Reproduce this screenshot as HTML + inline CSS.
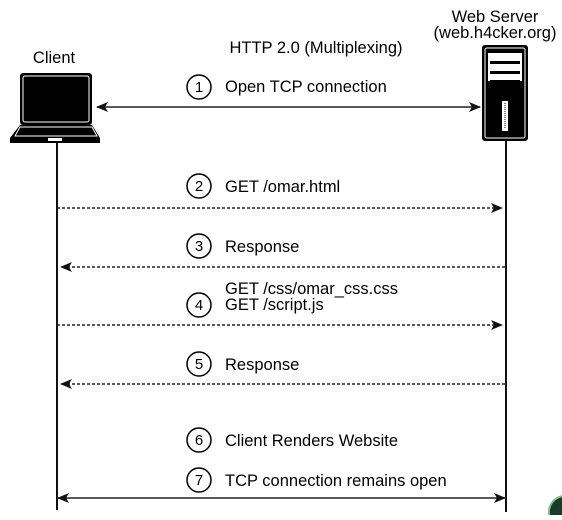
<!DOCTYPE html>
<html><head><style>
body{margin:0;background:#fff;}
svg text{font-family:"Liberation Sans",sans-serif;fill:#000;}
</style></head><body>
<svg width="562" height="515" viewBox="0 0 562 515" xmlns="http://www.w3.org/2000/svg">
<defs>
<marker id="ar" viewBox="0 0 12 10" refX="11" refY="5" markerWidth="12" markerHeight="10" markerUnits="userSpaceOnUse" orient="auto-start-reverse">
<path d="M0,0 L12,5 L0,10 L3,5 Z" fill="#111"/>
</marker>
</defs>
<text x="54" y="63" font-size="16.5" text-anchor="middle">Client</text>
<text x="495" y="22" font-size="16.5" text-anchor="middle">Web Server</text>
<text x="495" y="38" font-size="16.5" text-anchor="middle">(web.h4cker.org)</text>
<text x="316" y="53" font-size="16.5" text-anchor="middle">HTTP 2.0 (Multiplexing)</text>
<!-- laptop -->
<rect x="20" y="73" width="72" height="52" rx="3" fill="#000"/>
<rect x="23" y="76" width="66" height="46" rx="2" fill="none" stroke="#fff" stroke-width="1"/>
<path d="M20,125 L92,125 L100,138 L100,143 L10,143 L10,138 Z" fill="#000"/>
<path d="M20,127 L92,127 L97,136 L15,136 Z" fill="none" stroke="#fff" stroke-width="1"/>
<rect x="48" y="138" width="14" height="3" fill="#fff"/>
<!-- server -->
<rect x="482" y="45" width="46" height="96" rx="3" fill="#000"/>
<rect x="485" y="48" width="40" height="90" rx="2" fill="none" stroke="#fff" stroke-width="1"/>
<rect x="488" y="53" width="34" height="28" fill="#fff"/>
<rect x="490" y="61" width="30" height="3" fill="#000"/>
<rect x="490" y="71" width="30" height="3" fill="#000"/>
<rect x="490" y="80" width="30" height="2" fill="#000"/>
<rect x="502" y="101" width="6" height="30" fill="#fff"/>
<line x1="505" y1="103" x2="505" y2="129" stroke="#000" stroke-dasharray="1,1"/>
<!-- lifelines -->
<line x1="57" y1="143" x2="57" y2="510" stroke="#111" stroke-width="2"/>
<line x1="506" y1="141" x2="506" y2="512" stroke="#111" stroke-width="2"/>
<!-- arrows -->
<line x1="97" y1="107" x2="480" y2="107" stroke="#222" stroke-width="1.5" marker-start="url(#ar)" marker-end="url(#ar)"/>
<line x1="57" y1="208" x2="502" y2="208" stroke="#222" stroke-width="1.5" stroke-dasharray="3,2" marker-end="url(#ar)"/>
<line x1="505" y1="267" x2="61" y2="267" stroke="#222" stroke-width="1.5" stroke-dasharray="3,2" marker-end="url(#ar)"/>
<line x1="57" y1="325" x2="502" y2="325" stroke="#222" stroke-width="1.5" stroke-dasharray="3,2" marker-end="url(#ar)"/>
<line x1="505" y1="384" x2="61" y2="384" stroke="#222" stroke-width="1.5" stroke-dasharray="3,2" marker-end="url(#ar)"/>
<line x1="58" y1="498" x2="505" y2="498" stroke="#222" stroke-width="1.5" marker-start="url(#ar)" marker-end="url(#ar)"/>
<!-- circles -->
<g fill="none" stroke="#000" stroke-width="1.5">
<circle cx="199" cy="87" r="12"/><circle cx="199" cy="186" r="12"/><circle cx="199" cy="246" r="12"/>
<circle cx="199" cy="305" r="12"/><circle cx="199" cy="364" r="12"/><circle cx="199" cy="440" r="12"/><circle cx="199" cy="480" r="12"/>
</g>
<g font-size="15" text-anchor="middle">
<text x="199" y="92">1</text><text x="199" y="191">2</text><text x="199" y="251">3</text>
<text x="199" y="310">4</text><text x="199" y="369">5</text><text x="199" y="445">6</text><text x="199" y="485">7</text>
</g>
<g font-size="16.5">
<text x="225" y="92">Open TCP connection</text>
<text x="225" y="192">GET /omar.html</text>
<text x="225" y="252">Response</text>
<text x="225" y="294">GET /css/omar_css.css</text>
<text x="225" y="310">GET /script.js</text>
<text x="225" y="370">Response</text>
<text x="225" y="446">Client Renders Website</text>
<text x="225" y="486">TCP connection remains open</text>
</g>
<circle cx="565" cy="512" r="16" fill="#1c3a2a" stroke="#6fc08a" stroke-width="2"/>
</svg>
</body></html>
